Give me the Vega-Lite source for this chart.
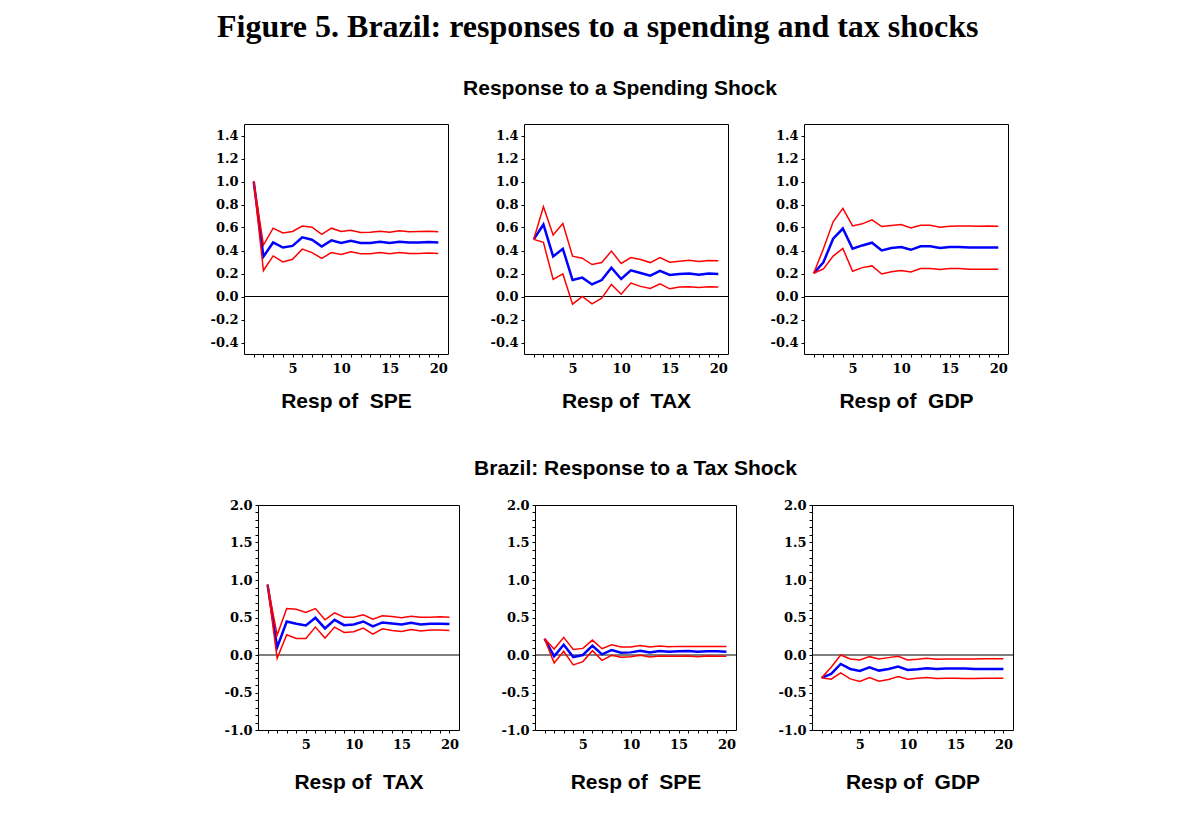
{
  "$schema": "https://vega.github.io/schema/vega-lite/v6.json",
  "background": "white",
  "padding": {"left": 207, "top": 10, "right": 5, "bottom": 5},
  "title": {"text": "Figure 5. Brazil: responses to a spending and tax shocks", "font": "Liberation Serif", "fontSize": 32, "fontWeight": "bold", "color": "black", "anchor": "middle", "dx": -13, "baseline": "alphabetic", "offset": 9},
  "datasets": {
    "irf": [
      {"p":"A","h":1,"m":1.0,"hi":1.0,"lo":1.0},
      {"p":"A","h":2,"m":0.347,"hi":0.447,"lo":0.226},
      {"p":"A","h":3,"m":0.47,"hi":0.594,"lo":0.353},
      {"p":"A","h":4,"m":0.426,"hi":0.553,"lo":0.30},
      {"p":"A","h":5,"m":0.44,"hi":0.565,"lo":0.324},
      {"p":"A","h":6,"m":0.515,"hi":0.612,"lo":0.412},
      {"p":"A","h":7,"m":0.494,"hi":0.603,"lo":0.382},
      {"p":"A","h":8,"m":0.435,"hi":0.541,"lo":0.332},
      {"p":"A","h":9,"m":0.488,"hi":0.594,"lo":0.382},
      {"p":"A","h":10,"m":0.465,"hi":0.565,"lo":0.365},
      {"p":"A","h":11,"m":0.485,"hi":0.576,"lo":0.388},
      {"p":"A","h":12,"m":0.465,"hi":0.556,"lo":0.371},
      {"p":"A","h":13,"m":0.465,"hi":0.559,"lo":0.371},
      {"p":"A","h":14,"m":0.476,"hi":0.568,"lo":0.382},
      {"p":"A","h":15,"m":0.465,"hi":0.559,"lo":0.371},
      {"p":"A","h":16,"m":0.476,"hi":0.571,"lo":0.382},
      {"p":"A","h":17,"m":0.47,"hi":0.562,"lo":0.374},
      {"p":"A","h":18,"m":0.47,"hi":0.565,"lo":0.374},
      {"p":"A","h":19,"m":0.473,"hi":0.568,"lo":0.379},
      {"p":"A","h":20,"m":0.47,"hi":0.562,"lo":0.374},
      {"p":"B","h":1,"m":0.497,"hi":0.497,"lo":0.497},
      {"p":"B","h":2,"m":0.626,"hi":0.78,"lo":0.471},
      {"p":"B","h":3,"m":0.348,"hi":0.535,"lo":0.149},
      {"p":"B","h":4,"m":0.415,"hi":0.635,"lo":0.196},
      {"p":"B","h":5,"m":0.143,"hi":0.351,"lo":-0.067},
      {"p":"B","h":6,"m":0.164,"hi":0.333,"lo":0.0},
      {"p":"B","h":7,"m":0.105,"hi":0.278,"lo":-0.064},
      {"p":"B","h":8,"m":0.143,"hi":0.295,"lo":-0.015},
      {"p":"B","h":9,"m":0.251,"hi":0.395,"lo":0.105},
      {"p":"B","h":10,"m":0.152,"hi":0.287,"lo":0.02},
      {"p":"B","h":11,"m":0.228,"hi":0.339,"lo":0.117},
      {"p":"B","h":12,"m":0.205,"hi":0.322,"lo":0.088},
      {"p":"B","h":13,"m":0.181,"hi":0.295,"lo":0.07},
      {"p":"B","h":14,"m":0.222,"hi":0.339,"lo":0.111},
      {"p":"B","h":15,"m":0.187,"hi":0.298,"lo":0.067},
      {"p":"B","h":16,"m":0.196,"hi":0.307,"lo":0.082},
      {"p":"B","h":17,"m":0.199,"hi":0.316,"lo":0.085},
      {"p":"B","h":18,"m":0.19,"hi":0.304,"lo":0.079},
      {"p":"B","h":19,"m":0.199,"hi":0.313,"lo":0.085},
      {"p":"B","h":20,"m":0.196,"hi":0.31,"lo":0.082},
      {"p":"C","h":1,"m":0.202,"hi":0.202,"lo":0.202},
      {"p":"C","h":2,"m":0.298,"hi":0.415,"lo":0.24},
      {"p":"C","h":3,"m":0.503,"hi":0.649,"lo":0.351},
      {"p":"C","h":4,"m":0.591,"hi":0.766,"lo":0.418},
      {"p":"C","h":5,"m":0.415,"hi":0.614,"lo":0.219},
      {"p":"C","h":6,"m":0.444,"hi":0.632,"lo":0.251},
      {"p":"C","h":7,"m":0.468,"hi":0.667,"lo":0.266},
      {"p":"C","h":8,"m":0.401,"hi":0.608,"lo":0.196},
      {"p":"C","h":9,"m":0.421,"hi":0.617,"lo":0.216},
      {"p":"C","h":10,"m":0.43,"hi":0.626,"lo":0.225},
      {"p":"C","h":11,"m":0.406,"hi":0.596,"lo":0.213},
      {"p":"C","h":12,"m":0.436,"hi":0.62,"lo":0.243},
      {"p":"C","h":13,"m":0.436,"hi":0.62,"lo":0.243},
      {"p":"C","h":14,"m":0.421,"hi":0.602,"lo":0.234},
      {"p":"C","h":15,"m":0.43,"hi":0.611,"lo":0.243},
      {"p":"C","h":16,"m":0.43,"hi":0.614,"lo":0.243},
      {"p":"C","h":17,"m":0.427,"hi":0.614,"lo":0.237},
      {"p":"C","h":18,"m":0.427,"hi":0.611,"lo":0.237},
      {"p":"C","h":19,"m":0.427,"hi":0.614,"lo":0.237},
      {"p":"C","h":20,"m":0.427,"hi":0.611,"lo":0.237},
      {"p":"D","h":1,"m":0.938,"hi":0.938,"lo":0.938},
      {"p":"D","h":2,"m":0.102,"hi":0.265,"lo":-0.044},
      {"p":"D","h":3,"m":0.447,"hi":0.619,"lo":0.27},
      {"p":"D","h":4,"m":0.416,"hi":0.611,"lo":0.221},
      {"p":"D","h":5,"m":0.394,"hi":0.566,"lo":0.221},
      {"p":"D","h":6,"m":0.496,"hi":0.619,"lo":0.372},
      {"p":"D","h":7,"m":0.354,"hi":0.469,"lo":0.226},
      {"p":"D","h":8,"m":0.469,"hi":0.562,"lo":0.372},
      {"p":"D","h":9,"m":0.398,"hi":0.504,"lo":0.301},
      {"p":"D","h":10,"m":0.407,"hi":0.504,"lo":0.31},
      {"p":"D","h":11,"m":0.447,"hi":0.535,"lo":0.358},
      {"p":"D","h":12,"m":0.381,"hi":0.478,"lo":0.279},
      {"p":"D","h":13,"m":0.434,"hi":0.522,"lo":0.35},
      {"p":"D","h":14,"m":0.42,"hi":0.513,"lo":0.327},
      {"p":"D","h":15,"m":0.407,"hi":0.496,"lo":0.314},
      {"p":"D","h":16,"m":0.429,"hi":0.518,"lo":0.341},
      {"p":"D","h":17,"m":0.407,"hi":0.504,"lo":0.319},
      {"p":"D","h":18,"m":0.416,"hi":0.504,"lo":0.332},
      {"p":"D","h":19,"m":0.416,"hi":0.509,"lo":0.332},
      {"p":"D","h":20,"m":0.412,"hi":0.504,"lo":0.327},
      {"p":"E","h":1,"m":0.217,"hi":0.217,"lo":0.217},
      {"p":"E","h":2,"m":-0.018,"hi":0.08,"lo":-0.106},
      {"p":"E","h":3,"m":0.137,"hi":0.235,"lo":0.049},
      {"p":"E","h":4,"m":-0.027,"hi":0.075,"lo":-0.133},
      {"p":"E","h":5,"m":0.0,"hi":0.088,"lo":-0.088},
      {"p":"E","h":6,"m":0.124,"hi":0.199,"lo":0.058},
      {"p":"E","h":7,"m":0.009,"hi":0.084,"lo":-0.071},
      {"p":"E","h":8,"m":0.066,"hi":0.137,"lo":-0.004},
      {"p":"E","h":9,"m":0.031,"hi":0.106,"lo":-0.031},
      {"p":"E","h":10,"m":0.035,"hi":0.106,"lo":-0.022},
      {"p":"E","h":11,"m":0.058,"hi":0.128,"lo":-0.004},
      {"p":"E","h":12,"m":0.035,"hi":0.106,"lo":-0.027},
      {"p":"E","h":13,"m":0.053,"hi":0.119,"lo":-0.013},
      {"p":"E","h":14,"m":0.044,"hi":0.111,"lo":-0.018},
      {"p":"E","h":15,"m":0.049,"hi":0.115,"lo":-0.018},
      {"p":"E","h":16,"m":0.053,"hi":0.115,"lo":-0.013},
      {"p":"E","h":17,"m":0.044,"hi":0.115,"lo":-0.022},
      {"p":"E","h":18,"m":0.049,"hi":0.115,"lo":-0.013},
      {"p":"E","h":19,"m":0.049,"hi":0.115,"lo":-0.018},
      {"p":"E","h":20,"m":0.044,"hi":0.115,"lo":-0.018},
      {"p":"F","h":1,"m":-0.305,"hi":-0.305,"lo":-0.305},
      {"p":"F","h":2,"m":-0.252,"hi":-0.164,"lo":-0.323},
      {"p":"F","h":3,"m":-0.119,"hi":0.0,"lo":-0.239},
      {"p":"F","h":4,"m":-0.186,"hi":-0.053,"lo":-0.319},
      {"p":"F","h":5,"m":-0.212,"hi":-0.066,"lo":-0.354},
      {"p":"F","h":6,"m":-0.164,"hi":-0.022,"lo":-0.301},
      {"p":"F","h":7,"m":-0.208,"hi":-0.053,"lo":-0.35},
      {"p":"F","h":8,"m":-0.186,"hi":-0.035,"lo":-0.327},
      {"p":"F","h":9,"m":-0.155,"hi":-0.018,"lo":-0.288},
      {"p":"F","h":10,"m":-0.199,"hi":-0.066,"lo":-0.323},
      {"p":"F","h":11,"m":-0.19,"hi":-0.058,"lo":-0.31},
      {"p":"F","h":12,"m":-0.177,"hi":-0.044,"lo":-0.301},
      {"p":"F","h":13,"m":-0.186,"hi":-0.058,"lo":-0.314},
      {"p":"F","h":14,"m":-0.181,"hi":-0.053,"lo":-0.31},
      {"p":"F","h":15,"m":-0.181,"hi":-0.053,"lo":-0.31},
      {"p":"F","h":16,"m":-0.181,"hi":-0.053,"lo":-0.314},
      {"p":"F","h":17,"m":-0.186,"hi":-0.053,"lo":-0.314},
      {"p":"F","h":18,"m":-0.186,"hi":-0.049,"lo":-0.31},
      {"p":"F","h":19,"m":-0.186,"hi":-0.049,"lo":-0.31},
      {"p":"F","h":20,"m":-0.186,"hi":-0.049,"lo":-0.31}
    ]
  },
  "spacing": 45,
  "vconcat": [
    {
      "bounds": "flush",
      "spacing": 76,
      "hconcat": [
        {
          "width": 204, "height": 230,
          "layer": [
            {"data": {"values": [{"z": 0}]}, "mark": {"type": "rule", "color": "black", "strokeWidth": 1}, "encoding": {"y": {"field": "z", "type": "quantitative", "scale": {"domain": [-0.5, 1.5], "nice": false, "zero": false}, "axis": {"title": null, "values": [-0.4, -0.2, 0, 0.2, 0.4, 0.6, 0.8, 1, 1.2, 1.4], "labelExpr": "replace(format(datum.value, '.1f'), '\u2212', '-')", "minExtent": 36}}}},
            {"data": {"name": "irf"}, "transform": [{"filter": "datum.p === 'A'"}], "mark": {"type": "line", "color": "#0000ff", "strokeWidth": 2.5},
             "encoding": {"x": {"field": "h", "type": "quantitative", "scale": {"domain": [0, 21], "nice": false, "zero": false}, "axis": {"title": "Resp of\u00a0 SPE", "values": [1,2,3,4,5,6,7,8,9,10,11,12,13,14,15,16,17,18,19,20], "labelExpr": "datum.value % 5 === 0 ? datum.label : ''"}},
                          "y": {"field": "m", "type": "quantitative", "scale": {"domain": [-0.5, 1.5], "nice": false, "zero": false}, "axis": {"title": null, "values": [-0.4, -0.2, 0, 0.2, 0.4, 0.6, 0.8, 1, 1.2, 1.4], "labelExpr": "replace(format(datum.value, '.1f'), '\u2212', '-')", "minExtent": 36}}}},
            {"data": {"name": "irf"}, "transform": [{"filter": "datum.p === 'A'"}], "mark": {"type": "line", "color": "#ff0000", "strokeWidth": 1.5},
             "encoding": {"x": {"field": "h", "type": "quantitative", "scale": {"domain": [0, 21], "nice": false, "zero": false}, "axis": {"title": "Resp of\u00a0 SPE", "values": [1,2,3,4,5,6,7,8,9,10,11,12,13,14,15,16,17,18,19,20], "labelExpr": "datum.value % 5 === 0 ? datum.label : ''"}},
                          "y": {"field": "hi", "type": "quantitative", "scale": {"domain": [-0.5, 1.5], "nice": false, "zero": false}, "axis": {"title": null, "values": [-0.4, -0.2, 0, 0.2, 0.4, 0.6, 0.8, 1, 1.2, 1.4], "labelExpr": "replace(format(datum.value, '.1f'), '\u2212', '-')", "minExtent": 36}}}},
            {"data": {"name": "irf"}, "transform": [{"filter": "datum.p === 'A'"}], "mark": {"type": "line", "color": "#ff0000", "strokeWidth": 1.5},
             "encoding": {"x": {"field": "h", "type": "quantitative", "scale": {"domain": [0, 21], "nice": false, "zero": false}, "axis": {"title": "Resp of\u00a0 SPE", "values": [1,2,3,4,5,6,7,8,9,10,11,12,13,14,15,16,17,18,19,20], "labelExpr": "datum.value % 5 === 0 ? datum.label : ''"}},
                          "y": {"field": "lo", "type": "quantitative", "scale": {"domain": [-0.5, 1.5], "nice": false, "zero": false}, "axis": {"title": null, "values": [-0.4, -0.2, 0, 0.2, 0.4, 0.6, 0.8, 1, 1.2, 1.4], "labelExpr": "replace(format(datum.value, '.1f'), '\u2212', '-')", "minExtent": 36}}}}
          ]
        },
        {
          "width": 204, "height": 230,
          "title": {"text": "Response to a Spending Shock", "frame": "group", "anchor": "middle", "baseline": "alphabetic", "offset": 8, "dx": -6},
          "layer": [
            {"data": {"values": [{"z": 0}]}, "mark": {"type": "rule", "color": "black", "strokeWidth": 1}, "encoding": {"y": {"field": "z", "type": "quantitative", "scale": {"domain": [-0.5, 1.5], "nice": false, "zero": false}, "axis": {"title": null, "values": [-0.4, -0.2, 0, 0.2, 0.4, 0.6, 0.8, 1, 1.2, 1.4], "labelExpr": "replace(format(datum.value, '.1f'), '\u2212', '-')", "minExtent": 36}}}},
            {"data": {"name": "irf"}, "transform": [{"filter": "datum.p === 'B'"}], "mark": {"type": "line", "color": "#0000ff", "strokeWidth": 2.5},
             "encoding": {"x": {"field": "h", "type": "quantitative", "scale": {"domain": [0, 21], "nice": false, "zero": false}, "axis": {"title": "Resp of\u00a0 TAX", "values": [1,2,3,4,5,6,7,8,9,10,11,12,13,14,15,16,17,18,19,20], "labelExpr": "datum.value % 5 === 0 ? datum.label : ''"}},
                          "y": {"field": "m", "type": "quantitative", "scale": {"domain": [-0.5, 1.5], "nice": false, "zero": false}, "axis": {"title": null, "values": [-0.4, -0.2, 0, 0.2, 0.4, 0.6, 0.8, 1, 1.2, 1.4], "labelExpr": "replace(format(datum.value, '.1f'), '\u2212', '-')", "minExtent": 36}}}},
            {"data": {"name": "irf"}, "transform": [{"filter": "datum.p === 'B'"}], "mark": {"type": "line", "color": "#ff0000", "strokeWidth": 1.5},
             "encoding": {"x": {"field": "h", "type": "quantitative", "scale": {"domain": [0, 21], "nice": false, "zero": false}, "axis": {"title": "Resp of\u00a0 TAX", "values": [1,2,3,4,5,6,7,8,9,10,11,12,13,14,15,16,17,18,19,20], "labelExpr": "datum.value % 5 === 0 ? datum.label : ''"}},
                          "y": {"field": "hi", "type": "quantitative", "scale": {"domain": [-0.5, 1.5], "nice": false, "zero": false}, "axis": {"title": null, "values": [-0.4, -0.2, 0, 0.2, 0.4, 0.6, 0.8, 1, 1.2, 1.4], "labelExpr": "replace(format(datum.value, '.1f'), '\u2212', '-')", "minExtent": 36}}}},
            {"data": {"name": "irf"}, "transform": [{"filter": "datum.p === 'B'"}], "mark": {"type": "line", "color": "#ff0000", "strokeWidth": 1.5},
             "encoding": {"x": {"field": "h", "type": "quantitative", "scale": {"domain": [0, 21], "nice": false, "zero": false}, "axis": {"title": "Resp of\u00a0 TAX", "values": [1,2,3,4,5,6,7,8,9,10,11,12,13,14,15,16,17,18,19,20], "labelExpr": "datum.value % 5 === 0 ? datum.label : ''"}},
                          "y": {"field": "lo", "type": "quantitative", "scale": {"domain": [-0.5, 1.5], "nice": false, "zero": false}, "axis": {"title": null, "values": [-0.4, -0.2, 0, 0.2, 0.4, 0.6, 0.8, 1, 1.2, 1.4], "labelExpr": "replace(format(datum.value, '.1f'), '\u2212', '-')", "minExtent": 36}}}}
          ]
        },
        {
          "width": 204, "height": 230,
          "layer": [
            {"data": {"values": [{"z": 0}]}, "mark": {"type": "rule", "color": "black", "strokeWidth": 1}, "encoding": {"y": {"field": "z", "type": "quantitative", "scale": {"domain": [-0.5, 1.5], "nice": false, "zero": false}, "axis": {"title": null, "values": [-0.4, -0.2, 0, 0.2, 0.4, 0.6, 0.8, 1, 1.2, 1.4], "labelExpr": "replace(format(datum.value, '.1f'), '\u2212', '-')", "minExtent": 36}}}},
            {"data": {"name": "irf"}, "transform": [{"filter": "datum.p === 'C'"}], "mark": {"type": "line", "color": "#0000ff", "strokeWidth": 2.5},
             "encoding": {"x": {"field": "h", "type": "quantitative", "scale": {"domain": [0, 21], "nice": false, "zero": false}, "axis": {"title": "Resp of\u00a0 GDP", "values": [1,2,3,4,5,6,7,8,9,10,11,12,13,14,15,16,17,18,19,20], "labelExpr": "datum.value % 5 === 0 ? datum.label : ''"}},
                          "y": {"field": "m", "type": "quantitative", "scale": {"domain": [-0.5, 1.5], "nice": false, "zero": false}, "axis": {"title": null, "values": [-0.4, -0.2, 0, 0.2, 0.4, 0.6, 0.8, 1, 1.2, 1.4], "labelExpr": "replace(format(datum.value, '.1f'), '\u2212', '-')", "minExtent": 36}}}},
            {"data": {"name": "irf"}, "transform": [{"filter": "datum.p === 'C'"}], "mark": {"type": "line", "color": "#ff0000", "strokeWidth": 1.5},
             "encoding": {"x": {"field": "h", "type": "quantitative", "scale": {"domain": [0, 21], "nice": false, "zero": false}, "axis": {"title": "Resp of\u00a0 GDP", "values": [1,2,3,4,5,6,7,8,9,10,11,12,13,14,15,16,17,18,19,20], "labelExpr": "datum.value % 5 === 0 ? datum.label : ''"}},
                          "y": {"field": "hi", "type": "quantitative", "scale": {"domain": [-0.5, 1.5], "nice": false, "zero": false}, "axis": {"title": null, "values": [-0.4, -0.2, 0, 0.2, 0.4, 0.6, 0.8, 1, 1.2, 1.4], "labelExpr": "replace(format(datum.value, '.1f'), '\u2212', '-')", "minExtent": 36}}}},
            {"data": {"name": "irf"}, "transform": [{"filter": "datum.p === 'C'"}], "mark": {"type": "line", "color": "#ff0000", "strokeWidth": 1.5},
             "encoding": {"x": {"field": "h", "type": "quantitative", "scale": {"domain": [0, 21], "nice": false, "zero": false}, "axis": {"title": "Resp of\u00a0 GDP", "values": [1,2,3,4,5,6,7,8,9,10,11,12,13,14,15,16,17,18,19,20], "labelExpr": "datum.value % 5 === 0 ? datum.label : ''"}},
                          "y": {"field": "lo", "type": "quantitative", "scale": {"domain": [-0.5, 1.5], "nice": false, "zero": false}, "axis": {"title": null, "values": [-0.4, -0.2, 0, 0.2, 0.4, 0.6, 0.8, 1, 1.2, 1.4], "labelExpr": "replace(format(datum.value, '.1f'), '\u2212', '-')", "minExtent": 36}}}}
          ]
        }
      ]
    },
    {
      "bounds": "flush",
      "spacing": 13,
      "hconcat": [
        {"width": 1, "height": 1, "view": {"stroke": null}, "data": {"values": [{"z": 0}]}, "mark": {"type": "point", "opacity": 0}, "encoding": {}},
        {
          "bounds": "flush",
          "spacing": 76,
          "hconcat": [
            {
              "width": 201, "height": 225,
              "layer": [
                {"data": {"values": [{"z": 0}]}, "mark": {"type": "rule", "color": "black", "strokeWidth": 1}, "encoding": {"y": {"field": "z", "type": "quantitative", "scale": {"domain": [-1, 2], "nice": false, "zero": false}, "axis": {"title": null, "values": [-1,-0.9,-0.8,-0.7,-0.6,-0.5,-0.4,-0.3,-0.2,-0.1,0,0.1,0.2,0.3,0.4,0.5,0.6,0.7,0.8,0.9,1,1.1,1.2,1.3,1.4,1.5,1.6,1.7,1.8,1.9,2], "labelExpr": "abs(datum.value*2 - round(datum.value*2)) < 0.001 ? replace(format(datum.value, '.1f'), '\u2212', '-') : ''", "minExtent": 36}}}},
                {"data": {"name": "irf"}, "transform": [{"filter": "datum.p === 'D'"}], "mark": {"type": "line", "color": "#0000ff", "strokeWidth": 2.5},
                 "encoding": {"x": {"field": "h", "type": "quantitative", "scale": {"domain": [0, 21], "nice": false, "zero": false}, "axis": {"title": "Resp of\u00a0 TAX", "titlePadding": 20, "values": [1,2,3,4,5,6,7,8,9,10,11,12,13,14,15,16,17,18,19,20], "labelExpr": "datum.value % 5 === 0 ? datum.label : ''"}},
                              "y": {"field": "m", "type": "quantitative", "scale": {"domain": [-1, 2], "nice": false, "zero": false}, "axis": {"title": null, "values": [-1,-0.9,-0.8,-0.7,-0.6,-0.5,-0.4,-0.3,-0.2,-0.1,0,0.1,0.2,0.3,0.4,0.5,0.6,0.7,0.8,0.9,1,1.1,1.2,1.3,1.4,1.5,1.6,1.7,1.8,1.9,2], "labelExpr": "abs(datum.value*2 - round(datum.value*2)) < 0.001 ? replace(format(datum.value, '.1f'), '\u2212', '-') : ''", "minExtent": 36}}}},
                {"data": {"name": "irf"}, "transform": [{"filter": "datum.p === 'D'"}], "mark": {"type": "line", "color": "#ff0000", "strokeWidth": 1.5},
                 "encoding": {"x": {"field": "h", "type": "quantitative", "scale": {"domain": [0, 21], "nice": false, "zero": false}, "axis": {"title": "Resp of\u00a0 TAX", "titlePadding": 20, "values": [1,2,3,4,5,6,7,8,9,10,11,12,13,14,15,16,17,18,19,20], "labelExpr": "datum.value % 5 === 0 ? datum.label : ''"}},
                              "y": {"field": "hi", "type": "quantitative", "scale": {"domain": [-1, 2], "nice": false, "zero": false}, "axis": {"title": null, "values": [-1,-0.9,-0.8,-0.7,-0.6,-0.5,-0.4,-0.3,-0.2,-0.1,0,0.1,0.2,0.3,0.4,0.5,0.6,0.7,0.8,0.9,1,1.1,1.2,1.3,1.4,1.5,1.6,1.7,1.8,1.9,2], "labelExpr": "abs(datum.value*2 - round(datum.value*2)) < 0.001 ? replace(format(datum.value, '.1f'), '\u2212', '-') : ''", "minExtent": 36}}}},
                {"data": {"name": "irf"}, "transform": [{"filter": "datum.p === 'D'"}], "mark": {"type": "line", "color": "#ff0000", "strokeWidth": 1.5},
                 "encoding": {"x": {"field": "h", "type": "quantitative", "scale": {"domain": [0, 21], "nice": false, "zero": false}, "axis": {"title": "Resp of\u00a0 TAX", "titlePadding": 20, "values": [1,2,3,4,5,6,7,8,9,10,11,12,13,14,15,16,17,18,19,20], "labelExpr": "datum.value % 5 === 0 ? datum.label : ''"}},
                              "y": {"field": "lo", "type": "quantitative", "scale": {"domain": [-1, 2], "nice": false, "zero": false}, "axis": {"title": null, "values": [-1,-0.9,-0.8,-0.7,-0.6,-0.5,-0.4,-0.3,-0.2,-0.1,0,0.1,0.2,0.3,0.4,0.5,0.6,0.7,0.8,0.9,1,1.1,1.2,1.3,1.4,1.5,1.6,1.7,1.8,1.9,2], "labelExpr": "abs(datum.value*2 - round(datum.value*2)) < 0.001 ? replace(format(datum.value, '.1f'), '\u2212', '-') : ''", "minExtent": 36}}}}
              ]
            },
            {
              "width": 201, "height": 225,
              "title": {"text": "Brazil: Response to a Tax Shock", "frame": "group", "anchor": "middle", "baseline": "alphabetic", "offset": 3},
              "layer": [
                {"data": {"values": [{"z": 0}]}, "mark": {"type": "rule", "color": "black", "strokeWidth": 1}, "encoding": {"y": {"field": "z", "type": "quantitative", "scale": {"domain": [-1, 2], "nice": false, "zero": false}, "axis": {"title": null, "values": [-1,-0.9,-0.8,-0.7,-0.6,-0.5,-0.4,-0.3,-0.2,-0.1,0,0.1,0.2,0.3,0.4,0.5,0.6,0.7,0.8,0.9,1,1.1,1.2,1.3,1.4,1.5,1.6,1.7,1.8,1.9,2], "labelExpr": "abs(datum.value*2 - round(datum.value*2)) < 0.001 ? replace(format(datum.value, '.1f'), '\u2212', '-') : ''", "minExtent": 36}}}},
                {"data": {"name": "irf"}, "transform": [{"filter": "datum.p === 'E'"}], "mark": {"type": "line", "color": "#0000ff", "strokeWidth": 2.5},
                 "encoding": {"x": {"field": "h", "type": "quantitative", "scale": {"domain": [0, 21], "nice": false, "zero": false}, "axis": {"title": "Resp of\u00a0 SPE", "titlePadding": 20, "values": [1,2,3,4,5,6,7,8,9,10,11,12,13,14,15,16,17,18,19,20], "labelExpr": "datum.value % 5 === 0 ? datum.label : ''"}},
                              "y": {"field": "m", "type": "quantitative", "scale": {"domain": [-1, 2], "nice": false, "zero": false}, "axis": {"title": null, "values": [-1,-0.9,-0.8,-0.7,-0.6,-0.5,-0.4,-0.3,-0.2,-0.1,0,0.1,0.2,0.3,0.4,0.5,0.6,0.7,0.8,0.9,1,1.1,1.2,1.3,1.4,1.5,1.6,1.7,1.8,1.9,2], "labelExpr": "abs(datum.value*2 - round(datum.value*2)) < 0.001 ? replace(format(datum.value, '.1f'), '\u2212', '-') : ''", "minExtent": 36}}}},
                {"data": {"name": "irf"}, "transform": [{"filter": "datum.p === 'E'"}], "mark": {"type": "line", "color": "#ff0000", "strokeWidth": 1.5},
                 "encoding": {"x": {"field": "h", "type": "quantitative", "scale": {"domain": [0, 21], "nice": false, "zero": false}, "axis": {"title": "Resp of\u00a0 SPE", "titlePadding": 20, "values": [1,2,3,4,5,6,7,8,9,10,11,12,13,14,15,16,17,18,19,20], "labelExpr": "datum.value % 5 === 0 ? datum.label : ''"}},
                              "y": {"field": "hi", "type": "quantitative", "scale": {"domain": [-1, 2], "nice": false, "zero": false}, "axis": {"title": null, "values": [-1,-0.9,-0.8,-0.7,-0.6,-0.5,-0.4,-0.3,-0.2,-0.1,0,0.1,0.2,0.3,0.4,0.5,0.6,0.7,0.8,0.9,1,1.1,1.2,1.3,1.4,1.5,1.6,1.7,1.8,1.9,2], "labelExpr": "abs(datum.value*2 - round(datum.value*2)) < 0.001 ? replace(format(datum.value, '.1f'), '\u2212', '-') : ''", "minExtent": 36}}}},
                {"data": {"name": "irf"}, "transform": [{"filter": "datum.p === 'E'"}], "mark": {"type": "line", "color": "#ff0000", "strokeWidth": 1.5},
                 "encoding": {"x": {"field": "h", "type": "quantitative", "scale": {"domain": [0, 21], "nice": false, "zero": false}, "axis": {"title": "Resp of\u00a0 SPE", "titlePadding": 20, "values": [1,2,3,4,5,6,7,8,9,10,11,12,13,14,15,16,17,18,19,20], "labelExpr": "datum.value % 5 === 0 ? datum.label : ''"}},
                              "y": {"field": "lo", "type": "quantitative", "scale": {"domain": [-1, 2], "nice": false, "zero": false}, "axis": {"title": null, "values": [-1,-0.9,-0.8,-0.7,-0.6,-0.5,-0.4,-0.3,-0.2,-0.1,0,0.1,0.2,0.3,0.4,0.5,0.6,0.7,0.8,0.9,1,1.1,1.2,1.3,1.4,1.5,1.6,1.7,1.8,1.9,2], "labelExpr": "abs(datum.value*2 - round(datum.value*2)) < 0.001 ? replace(format(datum.value, '.1f'), '\u2212', '-') : ''", "minExtent": 36}}}}
              ]
            },
            {
              "width": 201, "height": 225,
              "layer": [
                {"data": {"values": [{"z": 0}]}, "mark": {"type": "rule", "color": "black", "strokeWidth": 1}, "encoding": {"y": {"field": "z", "type": "quantitative", "scale": {"domain": [-1, 2], "nice": false, "zero": false}, "axis": {"title": null, "values": [-1,-0.9,-0.8,-0.7,-0.6,-0.5,-0.4,-0.3,-0.2,-0.1,0,0.1,0.2,0.3,0.4,0.5,0.6,0.7,0.8,0.9,1,1.1,1.2,1.3,1.4,1.5,1.6,1.7,1.8,1.9,2], "labelExpr": "abs(datum.value*2 - round(datum.value*2)) < 0.001 ? replace(format(datum.value, '.1f'), '\u2212', '-') : ''", "minExtent": 36}}}},
                {"data": {"name": "irf"}, "transform": [{"filter": "datum.p === 'F'"}], "mark": {"type": "line", "color": "#0000ff", "strokeWidth": 2.5},
                 "encoding": {"x": {"field": "h", "type": "quantitative", "scale": {"domain": [0, 21], "nice": false, "zero": false}, "axis": {"title": "Resp of\u00a0 GDP", "titlePadding": 20, "values": [1,2,3,4,5,6,7,8,9,10,11,12,13,14,15,16,17,18,19,20], "labelExpr": "datum.value % 5 === 0 ? datum.label : ''"}},
                              "y": {"field": "m", "type": "quantitative", "scale": {"domain": [-1, 2], "nice": false, "zero": false}, "axis": {"title": null, "values": [-1,-0.9,-0.8,-0.7,-0.6,-0.5,-0.4,-0.3,-0.2,-0.1,0,0.1,0.2,0.3,0.4,0.5,0.6,0.7,0.8,0.9,1,1.1,1.2,1.3,1.4,1.5,1.6,1.7,1.8,1.9,2], "labelExpr": "abs(datum.value*2 - round(datum.value*2)) < 0.001 ? replace(format(datum.value, '.1f'), '\u2212', '-') : ''", "minExtent": 36}}}},
                {"data": {"name": "irf"}, "transform": [{"filter": "datum.p === 'F'"}], "mark": {"type": "line", "color": "#ff0000", "strokeWidth": 1.5},
                 "encoding": {"x": {"field": "h", "type": "quantitative", "scale": {"domain": [0, 21], "nice": false, "zero": false}, "axis": {"title": "Resp of\u00a0 GDP", "titlePadding": 20, "values": [1,2,3,4,5,6,7,8,9,10,11,12,13,14,15,16,17,18,19,20], "labelExpr": "datum.value % 5 === 0 ? datum.label : ''"}},
                              "y": {"field": "hi", "type": "quantitative", "scale": {"domain": [-1, 2], "nice": false, "zero": false}, "axis": {"title": null, "values": [-1,-0.9,-0.8,-0.7,-0.6,-0.5,-0.4,-0.3,-0.2,-0.1,0,0.1,0.2,0.3,0.4,0.5,0.6,0.7,0.8,0.9,1,1.1,1.2,1.3,1.4,1.5,1.6,1.7,1.8,1.9,2], "labelExpr": "abs(datum.value*2 - round(datum.value*2)) < 0.001 ? replace(format(datum.value, '.1f'), '\u2212', '-') : ''", "minExtent": 36}}}},
                {"data": {"name": "irf"}, "transform": [{"filter": "datum.p === 'F'"}], "mark": {"type": "line", "color": "#ff0000", "strokeWidth": 1.5},
                 "encoding": {"x": {"field": "h", "type": "quantitative", "scale": {"domain": [0, 21], "nice": false, "zero": false}, "axis": {"title": "Resp of\u00a0 GDP", "titlePadding": 20, "values": [1,2,3,4,5,6,7,8,9,10,11,12,13,14,15,16,17,18,19,20], "labelExpr": "datum.value % 5 === 0 ? datum.label : ''"}},
                              "y": {"field": "lo", "type": "quantitative", "scale": {"domain": [-1, 2], "nice": false, "zero": false}, "axis": {"title": null, "values": [-1,-0.9,-0.8,-0.7,-0.6,-0.5,-0.4,-0.3,-0.2,-0.1,0,0.1,0.2,0.3,0.4,0.5,0.6,0.7,0.8,0.9,1,1.1,1.2,1.3,1.4,1.5,1.6,1.7,1.8,1.9,2], "labelExpr": "abs(datum.value*2 - round(datum.value*2)) < 0.001 ? replace(format(datum.value, '.1f'), '\u2212', '-') : ''", "minExtent": 36}}}}
              ]
            }
          ]
        }
      ]
    }
  ],
  "config": {
    "view": {"stroke": "black", "strokeWidth": 1},
    "axis": {"grid": false, "domain": false, "ticks": true, "tickColor": "black", "tickSize": 3, "tickWidth": 1, "labelFont": "DejaVu Serif", "labelFontWeight": "bold", "labelFontSize": 13, "labelColor": "black", "labelPadding": 3, "labelOverlap": false, "labelFlush": false, "titleFont": "Liberation Sans", "titleFontSize": 21, "titleFontWeight": "bold", "titleColor": "black"},
    "axisX": {"labelPadding": 5, "titlePadding": 15},
    "title": {"font": "Liberation Sans", "fontSize": 21, "fontWeight": "bold", "color": "black"}
  }
}
